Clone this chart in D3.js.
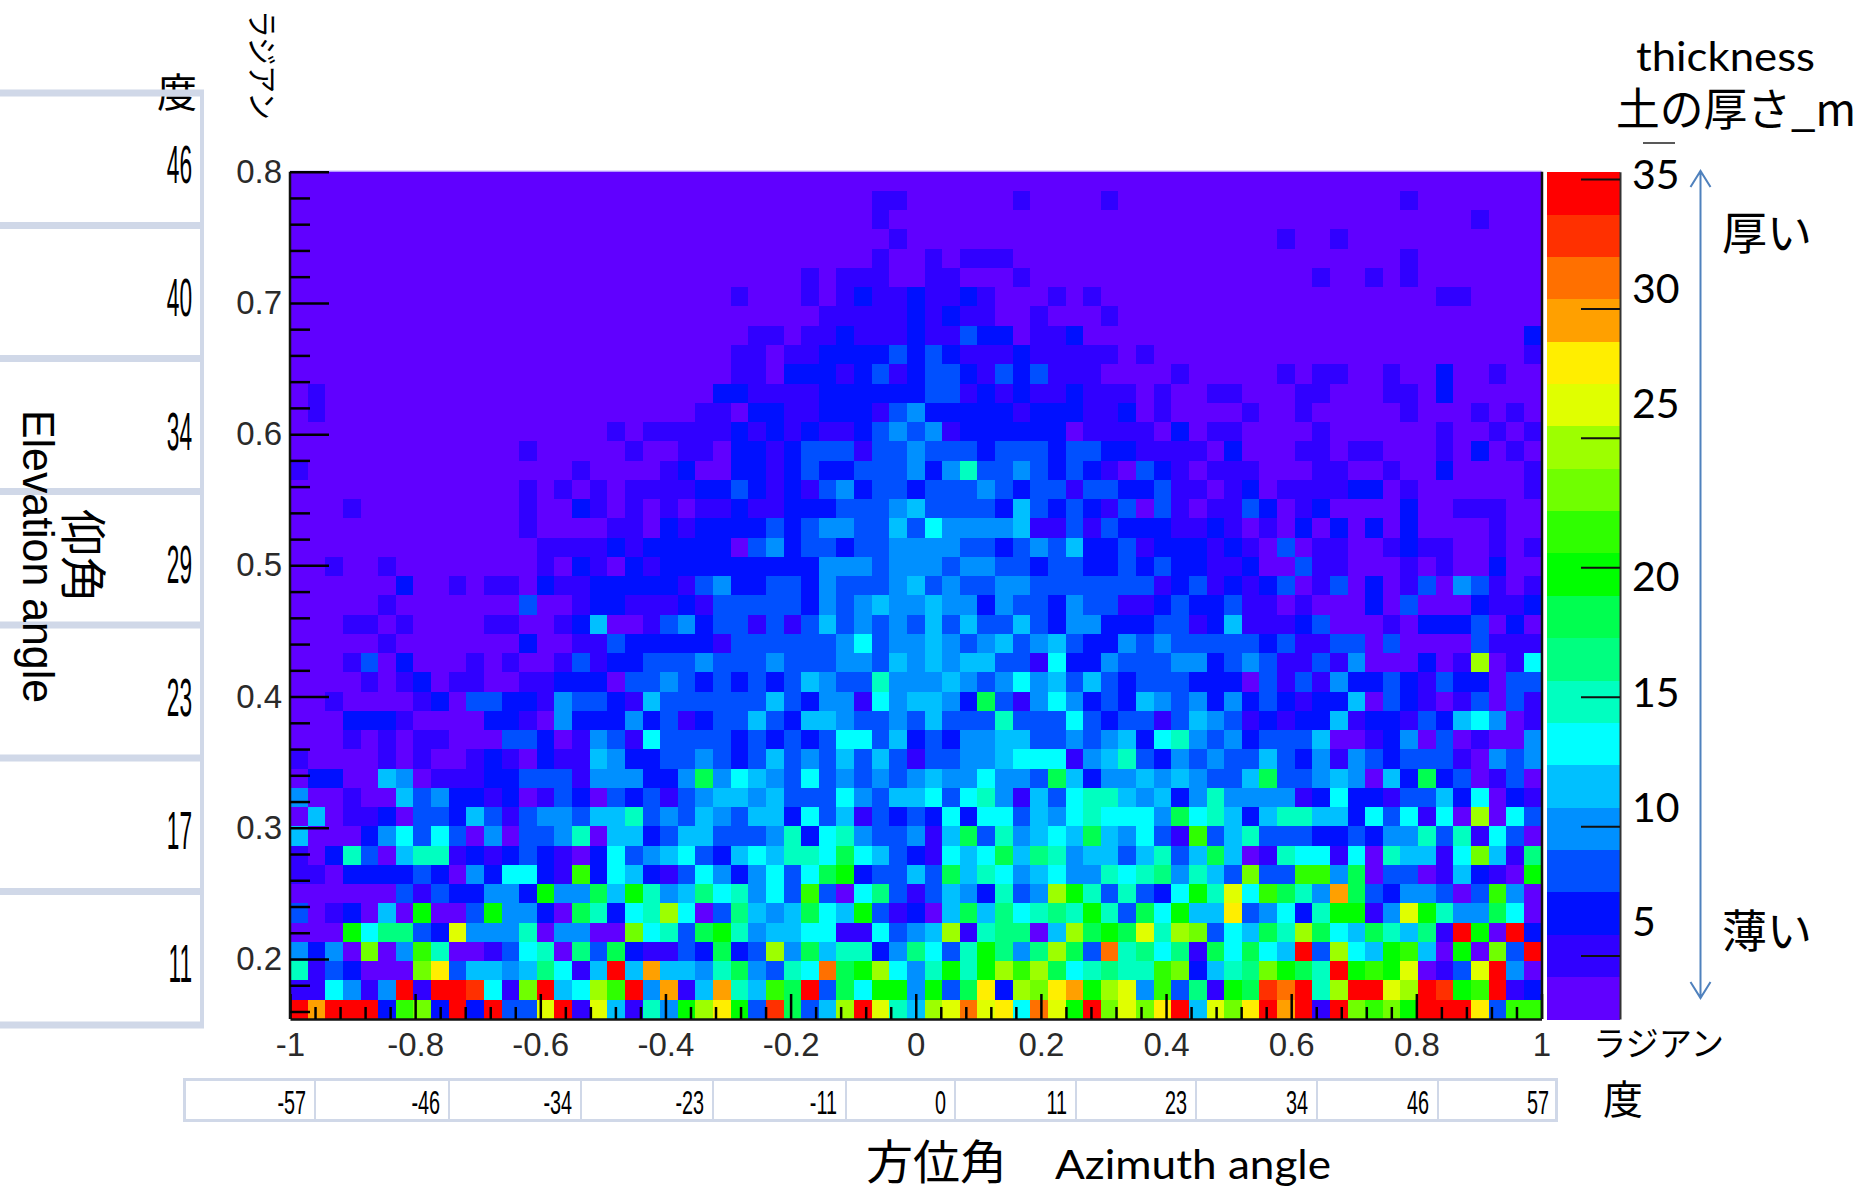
<!DOCTYPE html>
<html><head><meta charset="utf-8">
<script src="https://cdn.jsdelivr.net/npm/d3@7"></script>
<style>html,body{margin:0;padding:0;background:#fff;overflow:hidden}svg{display:block}</style>
</head><body><svg id="chart" width="1863" height="1187"></svg>
<script>
// Thickness class per cell (base-20 digit = colour band), top row first, 71 columns.
const thicknessClassRows = [
"0000000000 0000000000 0000000000 0000000000 0000000000 0000000000 0000000000 0",
"0000000000 0000000000 0000000000 0001100000 0100001000 0000000000 0001000000 0",
"0000000000 0000000000 0000000000 0001000000 0000000000 0000000000 0000000100 0",
"0000000000 0000000000 0000000000 0000100000 0000000000 0000001001 0000000000 0",
"0000000000 0000000000 0000000000 0001001011 1000000000 0000000000 0001000000 0",
"0000000000 0000000000 0000000001 0111001100 0100000000 0000000010 0101000000 0",
"0000000000 0000000000 0000010001 0121121121 0001010000 0000000000 0000011000 0",
"0000000000 0000000000 0000000000 1111121211 0010001000 0000000000 0000000000 0",
"0000000000 0000000000 0000001101 1211121132 2011200000 0000000000 0000000000 2",
"0000000000 0000000000 0000011011 2222323211 1211111010 0000000000 0000000000 1",
"0000000000 0000000000 0000011022 2123123321 3231110000 1000001011 0010020010 0",
"0100000000 0000000000 0000221111 2222223312 1211211101 0011000110 0011020000 0",
"0100000000 0000000000 0001102211 2221342222 2122211201 0000100100 0001000101 0",
"0000000000 0000000010 1111121212 1123434122 2222011110 2011000010 0000010010 1",
"0000000000 0001000001 0011022123 3313343332 3332332211 1102000110 1100010201 0",
"1000000000 0000001000 0120022123 2233342473 3432321032 1011100011 0010020000 1",
"0000000000 0001010101 1112232121 3423323334 3233133223 1101201111 2201000000 1",
"0001000000 0001002101 0101121122 2333453333 2532321303 1011320120 0002001110 0",
"0000000000 0001000011 0212222323 4433536444 4511313222 1121010202 0202000010 0",
"0000000000 0000111121 2222203423 3233444433 2343522312 2212103011 0012110010 1",
"0010010000 0000102102 1222222222 4443444344 3323322323 2211200311 0001010020 0",
"0000002001 0110211222 2213422332 4333453433 4433333331 2312123013 0201304310 1",
"0000010000 0003001221 1121333332 4345445442 4332433112 3223110100 0203000211 2",
"0001101000 0110012500 1342331313 5343435353 3532442223 3125111230 0010222302 0",
"0000010000 0002001132 2222133333 3463445434 5345322434 3333323113 3030000311 1",
"0001302000 1010013122 3334333433 3443545455 3316224333 4423431131 4000201d01 6",
"0000101201 1001122203 3432323235 4337444543 4645353233 3222031314 2232132203 3",
"0010000120 3322143321 5333333532 4416455429 3146423254 3424232122 5032101303 1",
"0002221000 0221042224 2312335325 5433435333 7333632331 3543121225 1221325640 1",
"0001010110 0033201431 6333323232 3663523244 5533434526 7434233350 0124030100 4",
"1000010100 1210211542 2334323534 3535313344 5666145732 4343353241 4323331043 4",
"0220054011 1223331444 2249465436 3434345446 4439524454 5433593345 4052923013 0",
"4001005342 2120132032 3134554533 3643556367 4153677545 2474444126 2213352602 1",
"0501120332 5313443557 3435435526 3513232626 6354676664 9675257755 2636160d06 3",
"5000246363 0403347055 2355333472 6743341593 7456595463 1b35733322 3244737163 0",
"1027305771 2123210263 4563256577 6965321656 9587455357 3595017661 6075516c51 8",
"1102222320 426621b265 2136424636 9a23353957 6456447678 4753c33bb4 9033015210 a",
"0000003132 2442a4495a 745867463b 3068313542 734da73732 6a7e6b974g 93244303b4 0",
"3012050a00 3a44209726 7d60385459 65a3120595 86787a7396 a55f34627a a14ea74496 0",
"000a68832e 444704400c 6739a74556 6116345d17 8805d9a9e7 dc36597d96 597581ja0j 2",
"4240c04b70 0136708392 1132923d49 577248637a 848d93h786 8196965j3d 65ab50a0c3 j",
"7132000cf3 55458615j5 g554794376 h9ad647a7a dbd967877b c2578ca97j abae013ej4 0",
"116414j1jj i61cj56dbj 4g15g75b9j 396aa4a39f 2dcfgade4b 381a9ihj7d jjedjiabj1 2",
"jgjjj2bc2j 2j33ej1e51 74adfa3i93 5dje75dehe f6heajcecf j5ecfjgj1j cbcajjjf3b b"
];
const bandColours = ["#6000ff","#3000ff","#0010ff","#0050ff","#0090ff","#00c0ff","#00ffff","#00ffc0","#00ff80","#00ff50","#00ff00","#2fff00","#70ff00","#9dff00","#e0ff00","#ffee00","#ffa000","#ff7000","#ff3000","#ff0000"];
const thicknessDomain = [2.55, 35.28];
const thicknessTicks = [5, 10, 15, 20, 25, 30, 35];
const xMajorTicks = [-1, -0.8, -0.6, -0.4, -0.2, 0, 0.2, 0.4, 0.6, 0.8, 1];
const xMinorTicks = [-0.96,-0.92,-0.88,-0.84,-0.76,-0.72,-0.68,-0.64,-0.56,-0.52,-0.48,-0.44,-0.36,-0.32,-0.28,-0.24,-0.16,-0.12,-0.08,-0.04,0.04,0.08,0.12,0.16,0.24,0.28,0.32,0.36,0.44,0.48,0.52,0.56,0.64,0.68,0.72,0.76,0.84,0.88,0.92,0.96];
const yMajorTicks = [0.8, 0.7, 0.6, 0.5, 0.4, 0.3, 0.2];
const yMinorTicks = [0.78,0.76,0.74,0.72,0.68,0.66,0.64,0.62,0.58,0.56,0.54,0.52,0.48,0.46,0.44,0.42,0.38,0.36,0.34,0.32,0.28,0.26,0.24,0.22,0.18,0.16];
const azimuthDegrees = ["-57","-46","-34","-23","-11","0","11","23","34","46","57"];
const elevationDegrees = ["46","40","34","29","23","17","11"];

// layout
const L = {left:290,right:1541.5,top:171.7,bottom:1019,cbLeft:1547,cbRight:1620};
const CJK = '"Noto Sans CJK JP"', LAT = 'Lato', ARI = '"Liberation Sans"';
const TABLE = "#d0d8e8";
const svg = d3.select("#chart");

const cells = thicknessClassRows.map(r => Array.from(r.replace(/ /g,""), c => parseInt(c,20)));
const nCols = cells[0].length, nRows = cells.length;
const colour = d3.scaleQuantize().domain(thicknessDomain).range(bandColours);
const bandStep = (thicknessDomain[1]-thicknessDomain[0])/bandColours.length;
const thicknessOf = k => thicknessDomain[0] + (k+0.5)*bandStep;

const colX = d3.scaleBand().domain(d3.range(nCols)).range([L.left,L.right]);
const rowY = d3.scaleBand().domain(d3.range(nRows)).range([L.top,L.bottom]);
const xTick = d3.scaleLinear().domain([-1,1]).range([L.left,L.right]);
const yTick = d3.scaleLinear().domain([0.8,0.2]).range([L.top,959]);
const cbY = d3.scaleLinear().domain(thicknessDomain).range([L.bottom,L.top]);

// heat map
svg.append("rect").attr("x",L.left).attr("y",L.top).attr("width",L.right-L.left).attr("height",L.bottom-L.top).attr("fill",bandColours[0]);
svg.append("g").attr("shape-rendering","crispEdges").selectAll("g").data(cells).join("g")
  .attr("transform",(d,i)=>`translate(0,${rowY(i)})`)
  .selectAll("rect").data(d=>d).join("rect")
  .attr("x",(d,i)=>colX(i)).attr("width",colX.bandwidth()+0.5).attr("height",rowY.bandwidth()+0.5)
  .attr("fill",d=>colour(thicknessOf(d)));
svg.append("line").attr("x1",L.left).attr("x2",L.right).attr("y1",L.top-0.5).attr("y2",L.top-0.5).attr("stroke","#a98cff").attr("stroke-width",1);

// axes
function styleAxis(g){g.select(".domain").attr("stroke","#111").attr("stroke-width",2.5);
  g.selectAll(".tick line").attr("stroke","#000").attr("stroke-width",2.5);
  g.selectAll("text").attr("font-family",ARI).attr("font-size",33).attr("fill","#2a2a2a");}
const gx = svg.append("g").attr("transform",`translate(0,${L.bottom})`);
gx.call(d3.axisBottom(xTick).tickValues(xMajorTicks).tickSizeInner(-25).tickSizeOuter(0).tickPadding(7).tickFormat(d=>String(d)));
styleAxis(gx);
gx.selectAll("text").attr("dy","0.9em");
const gxm = svg.append("g").attr("transform",`translate(0,${L.bottom})`);
gxm.call(d3.axisBottom(xTick).tickValues(xMinorTicks).tickSizeInner(-12).tickSizeOuter(0).tickFormat(""));
styleAxis(gxm); gxm.select(".domain").remove();
const gy = svg.append("g").attr("transform",`translate(${L.left},0)`);
gy.call(d3.axisLeft(yTick).tickValues(yMajorTicks).tickSizeInner(-39).tickSizeOuter(0).tickPadding(8).tickFormat(d3.format(".1f")));
styleAxis(gy);
gy.select(".domain").attr("d",`M0,${L.top}V${L.bottom}`);
const gym = svg.append("g").attr("transform",`translate(${L.left},0)`);
gym.call(d3.axisLeft(yTick).tickValues(yMinorTicks).tickSizeInner(-20).tickSizeOuter(0).tickFormat(""));
styleAxis(gym); gym.select(".domain").remove();
svg.append("line").attr("x1",L.right+0.5).attr("x2",L.right+0.5).attr("y1",L.top).attr("y2",L.bottom).attr("stroke","#111").attr("stroke-width",2.5);

// colour bar
const cbBand = d3.scaleBand().domain(d3.range(bandColours.length)).range([L.bottom,L.top]);
svg.append("g").attr("shape-rendering","crispEdges").selectAll("rect").data(bandColours).join("rect")
  .attr("x",L.cbLeft).attr("width",L.cbRight-L.cbLeft).attr("y",(d,i)=>cbBand(i)).attr("height",cbBand.bandwidth()+0.5).attr("fill",d=>d);
const gc = svg.append("g").attr("transform",`translate(${L.cbRight},0)`);
gc.call(d3.axisRight(cbY).tickValues(thicknessTicks).tickSizeInner(-39).tickSizeOuter(0).tickFormat(""));
gc.select(".domain").attr("stroke","#333").attr("stroke-width",2);
gc.selectAll(".tick line").attr("stroke","#111").attr("stroke-width",2);
svg.append("line").attr("x1",1643).attr("x2",1675).attr("y1",143).attr("y2",143).attr("stroke","#222").attr("stroke-width",1.5);

function label(txt,x,y,opt={}){
  const t = svg.append("text").text(txt).attr("x",x).attr("y",y).attr("dominant-baseline","central")
    .attr("font-family",opt.font||CJK).attr("font-size",opt.size||40).attr("fill",opt.fill||"#000").attr("text-anchor",opt.anchor||"start");
  if(opt.len) t.attr("textLength",opt.len).attr("lengthAdjust","spacingAndGlyphs");
  if(opt.rotate) t.attr("transform",`rotate(${opt.rotate} ${x} ${y})`);
  return t;
}
// Colour-bar numbers were placed by hand in the original, slightly away from their ticks
const cbLabelY = [920,806,691,575,402,287,173];
thicknessTicks.forEach((v,i)=>label(String(v),1632,cbLabelY[i],{font:LAT,size:41}));
label("thickness",1636,56,{font:LAT,size:40,len:179});
label("土の厚さ_m",1616,106,{size:45,len:240});
label("厚い",1722,230,{size:45});
label("薄い",1722,928,{size:45});
label("ラジアン",1593,1041,{size:34,len:131});
label("度",1603,1097,{size:40});
label("度",157,90,{size:40});
label("ラジアン",264,10,{size:31,len:110,rotate:90});

// arrow
const arrow = d3.path();
arrow.moveTo(1700.5,171); arrow.lineTo(1700.5,998);
arrow.moveTo(1690.5,187); arrow.lineTo(1700.5,171); arrow.lineTo(1710.5,187);
arrow.moveTo(1690.5,982); arrow.lineTo(1700.5,998); arrow.lineTo(1710.5,982);
svg.append("path").attr("d",arrow.toString()).attr("fill","none").attr("stroke","#4f81bd").attr("stroke-width",2);

// left table of elevation degrees
const tableY = [93,225.5,358.5,491.5,625,758,891.5,1025];
svg.append("g").selectAll("rect").data(tableY).join("rect").attr("x",0).attr("width",204).attr("y",d=>d-3.5).attr("height",7).attr("fill",TABLE);
svg.append("rect").attr("x",200).attr("width",4).attr("y",90).attr("height",938).attr("fill",TABLE);
const elevY = d3.scalePoint().domain(elevationDegrees).range([165,964]);
svg.append("g").selectAll("text").data(elevationDegrees).join("text").text(d=>d)
  .attr("transform",d=>`translate(192,${elevY(d)}) scale(0.42,1)`).attr("text-anchor","end").attr("dominant-baseline","central")
  .attr("font-family",ARI).attr("font-size",54).attr("fill","#000");

// bottom table of azimuth degrees
const colEdges = [183,315,449,581,713,846,955,1076,1196,1317,1438,1558];
svg.append("rect").attr("x",184.5).attr("y",1079.5).attr("width",1372).attr("height",41).attr("fill","none").attr("stroke",TABLE).attr("stroke-width",3);
svg.append("g").selectAll("rect").data(colEdges.slice(1,-1)).join("rect").attr("x",d=>d-1).attr("width",2).attr("y",1080).attr("height",40).attr("fill",TABLE);
svg.append("g").selectAll("text").data(azimuthDegrees).join("text").text(d=>d)
  .attr("transform",(d,i)=>`translate(${colEdges[i+1]-9},1102) scale(0.6,1)`).attr("text-anchor","end").attr("dominant-baseline","central")
  .attr("font-family",ARI).attr("font-size",33).attr("fill","#000");

// axis titles
label("方位角",866,1158,{size:47});
label("Azimuth angle",1055,1163,{font:LAT,size:41,len:276});
label("Elevation angle",38,410,{font:ARI,size:44,len:293,rotate:90});
label("仰角",86,509,{size:47,rotate:90});
</script></body></html>
